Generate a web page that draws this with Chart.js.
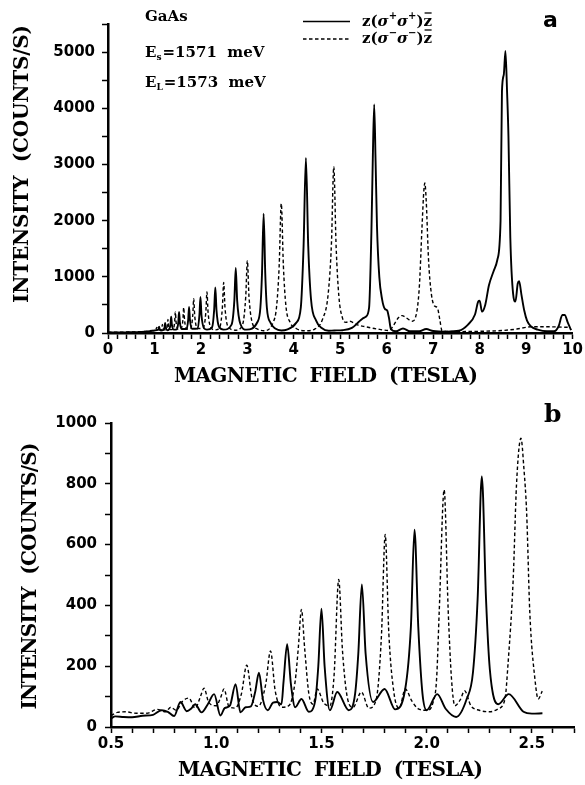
<!DOCTYPE html>
<html>
<head>
<meta charset="utf-8">
<script src="https://cdn.jsdelivr.net/npm/chart.js@4"></script>
<style>
  html, body { margin: 0; padding: 0; background: #fff; }
  #wrap { position: relative; width: 585px; height: 785px; }
  #wrap canvas { position: absolute; left: 0; top: 0; }
</style>
</head>
<body>
<div id="wrap">
  <canvas id="panelA" width="585" height="785"></canvas>
  <canvas id="panelB" width="585" height="785"></canvas>
</div>
<script>
// ---- Panel a: full field sweep, [field (T), intensity (counts/s)] ----
const plusA = [
  [0,8],[0.2,10],[0.4,12],[0.6,15],[0.8,22],[0.9,30],[1.0,45],
  [1.07,55],[1.088,70],[1.10,110],[1.112,70],[1.14,45],
  [1.19,55],[1.216,95],[1.23,180],[1.244,95],[1.28,50],
  [1.31,60],[1.345,150],[1.36,290],[1.375,150],[1.42,60],
  [1.48,65],[1.513,190],[1.53,375],[1.547,190],[1.59,70],
  [1.69,70],[1.726,235],[1.745,465],[1.764,235],[1.81,75],
  [1.93,80],[1.968,320],[1.99,640],[2.012,320],[2.07,80],
  [2.13,60],
  [2.24,100],[2.285,410],[2.31,810],[2.335,410],[2.39,110],
  [2.49,60],
  [2.66,150],[2.72,580],[2.75,1160],[2.78,580],[2.85,160],
  [2.98,60],
  [3.22,200],[3.28,450],[3.315,1060],[3.35,2125],[3.385,1060],[3.42,450],[3.50,180],[3.60,80],
  [3.73,45],[3.85,60],
  [4.05,180],[4.15,450],[4.21,1550],[4.26,3115],[4.31,1550],[4.37,600],[4.48,220],[4.60,90],
  [4.75,40],[4.87,45],[5.05,50],[5.25,90],[5.40,200],[5.47,250],[5.55,290],
  [5.62,450],[5.67,1800],[5.70,3100],[5.73,4070],[5.76,3050],[5.79,1900],[5.84,1000],
  [5.90,600],[5.96,430],[6.01,400],[6.05,260],[6.09,70],
  [6.20,30],[6.35,80],[6.50,30],[6.70,30],[6.85,70],[7.00,35],[7.30,25],[7.55,40],
  [7.75,150],[7.90,330],[7.97,560],[8.00,575],[8.05,380],[8.12,500],[8.20,850],
  [8.30,1100],[8.38,1300],[8.45,2000],[8.48,4300],[8.52,4600],[8.555,5020],[8.59,4300],
  [8.62,3500],[8.66,1700],[8.72,700],[8.77,560],[8.82,880],[8.85,920],[8.90,680],
  [8.96,400],[9.02,220],[9.10,120],[9.25,60],[9.45,30],[9.60,30],[9.70,120],
  [9.78,320],[9.83,320],[9.90,180],[9.97,50]
];
const minusA = [
  [0,15],[0.3,16],[0.6,20],[0.8,28],[0.95,45],
  [1.03,60],[1.05,100],[1.07,55],
  [1.14,55],[1.157,80],[1.17,150],[1.183,80],[1.21,55],
  [1.25,65],[1.276,125],[1.29,240],[1.304,125],[1.34,60],
  [1.40,65],[1.434,190],[1.45,375],[1.466,190],[1.51,65],
  [1.57,70],[1.612,230],[1.63,455],[1.648,230],[1.70,70],
  [1.78,80],[1.824,310],[1.845,610],[1.866,310],[1.93,80],
  [2.05,90],[2.106,370],[2.13,730],[2.154,370],[2.22,90],
  [2.31,55],
  [2.41,110],[2.462,455],[2.49,900],[2.518,455],[2.58,120],
  [2.75,50],
  [2.90,160],[2.965,650],[3.00,1285],[3.035,650],[3.11,170],[3.22,70],
  [3.35,40],
  [3.55,180],[3.63,480],[3.685,1200],[3.73,2305],[3.775,1200],[3.83,480],[3.92,190],[4.05,80],
  [4.26,40],[4.45,70],
  [4.62,250],[4.74,700],[4.81,1600],[4.86,2960],[4.91,1550],[4.97,650],[5.05,260],
  [5.12,190],[5.20,210],[5.35,150],[5.55,110],[5.80,70],[6.05,45],
  [6.15,140],[6.25,270],[6.33,310],[6.42,270],[6.55,210],[6.62,280],[6.70,800],
  [6.76,1900],[6.80,2550],[6.82,2670],[6.85,2350],[6.90,1300],[6.96,700],[7.03,480],
  [7.09,450],[7.14,250],[7.19,40],[7.50,25],[8.00,30],[8.50,45],[8.80,70],
  [9.10,110],[9.50,110],[9.95,100]
];

// ---- Panel b: low-field detail ----
const plusB = [
  [0.50,28],[0.52,35],[0.56,33],[0.60,32],[0.65,37],[0.70,40],[0.74,55],[0.77,50],
  [0.80,36],[0.83,82],[0.86,52],[0.88,60],[0.90,75],[0.93,48],[0.96,75],[0.99,108],
  [1.02,38],[1.04,62],[1.065,70],[1.092,141],[1.115,48],[1.14,65],[1.165,68],
  [1.185,115],[1.203,179],[1.222,90],[1.245,55],[1.27,80],[1.29,82],[1.31,75],
  [1.32,150],[1.337,272],[1.355,140],[1.375,65],[1.405,92],[1.44,50],[1.47,85],
  [1.485,200],[1.50,389],[1.515,200],[1.54,55],[1.575,115],[1.63,55],[1.66,110],
  [1.675,240],[1.692,469],[1.71,240],[1.745,82],[1.80,125],[1.85,58],[1.898,125],
  [1.925,330],[1.942,649],[1.96,330],[1.98,110],[2.00,55],[2.05,108],[2.09,60],
  [2.14,33],[2.19,92],[2.22,180],[2.242,420],[2.262,824],[2.282,420],[2.30,190],
  [2.34,75],[2.39,108],[2.46,50],[2.50,44],[2.55,45]
];
const minusB = [
  [0.50,38],[0.53,48],[0.57,50],[0.62,45],[0.67,45],[0.72,58],[0.76,50],[0.784,65],
  [0.81,55],[0.84,85],[0.87,95],[0.90,62],[0.925,100],[0.942,128],[0.965,80],
  [1.00,70],[1.02,95],[1.037,125],[1.06,68],[1.09,62],[1.12,110],[1.145,203],
  [1.17,95],[1.20,68],[1.235,140],[1.258,250],[1.28,120],[1.31,65],[1.345,70],
  [1.375,150],[1.39,260],[1.405,387],[1.42,260],[1.44,110],[1.46,75],[1.48,125],
  [1.51,80],[1.54,70],[1.56,170],[1.582,485],[1.60,250],[1.625,90],[1.65,65],
  [1.69,115],[1.725,62],[1.76,90],[1.785,300],[1.803,633],[1.82,310],[1.845,110],
  [1.87,62],[1.898,125],[1.93,85],[1.96,60],[2.00,55],[2.03,80],[2.047,157],
  [2.06,387],[2.083,780],[2.102,387],[2.118,157],[2.134,70],[2.16,90],[2.18,119],
  [2.21,70],[2.25,55],[2.30,50],[2.34,60],[2.372,92],[2.387,212],[2.411,485],
  [2.427,800],[2.448,950],[2.462,850],[2.475,705],[2.49,377],[2.514,160],[2.53,92],
  [2.549,118]
];

// ---- Axis ranges and tick spacing ----
const fieldRangeA = [0, 10],   fieldStepA = 0.2;
const countRangeA = [0, 5500], countStepA = 500;
const fieldRangeB = [0.5, 2.7], fieldStepB = 0.1;
const countRangeB = [0, 1000], countStepB = 100;

const yTitle = 'INTENSITY  (COUNTS/S)';
const xTitle = 'MAGNETIC  FIELD  (TESLA)';

const SERIF = '"DejaVu Serif", serif';
const SANS = '"DejaVu Sans", sans-serif';

// draw a string left-aligned at (x, y), spread evenly over the given width
function spreadText(ctx, text, x, y, width) {
  ctx.save();
  ctx.letterSpacing = '0px';
  const w = ctx.measureText(text).width;
  const n = Array.from(text).length;
  ctx.letterSpacing = ((width - w) / (n - 1)).toFixed(2) + 'px';
  ctx.textAlign = 'left';
  ctx.fillText(text, x, y);
  ctx.restore();
}

// draw a run of text pieces with their own fonts and vertical offsets
function richText(ctx, x, y, parts) {
  let cx = x;
  const placed = [];
  for (const p of parts) {
    ctx.font = p.font;
    ctx.fillText(p.t, cx, y + (p.dy || 0));
    const w = ctx.measureText(p.t).width;
    placed.push({ x: cx, w });
    cx += w + (p.gap || 0);
  }
  return placed;
}

function lineSeries(points, dashed) {
  return {
    data: points,
    borderColor: '#000',
    borderWidth: dashed ? 1.4 : 1.9,
    borderDash: dashed ? [3.5, 2.5] : [],
    pointRadius: 0,
    fill: false,
    cubicInterpolationMode: 'monotone'
  };
}

function axis(range, step, labelFn, opts) {
  return {
    type: 'linear',
    min: range[0],
    max: range[1],
    grid: { drawOnChartArea: false, drawTicks: true, tickLength: 6, tickWidth: 1.5, tickColor: '#000' },
    border: { display: true, color: '#000', width: 2.5 },
    ticks: {
      stepSize: step,
      autoSkip: false,
      maxRotation: 0,
      color: '#000',
      padding: opts.padding,
      font: { family: SANS, weight: 'bold', size: 15 },
      callback: labelFn
    },
    afterFit: opts.fit
  };
}

const isWhole = (v, m) => Math.abs(v / m - Math.round(v / m)) < 1e-6;

// text overlay for panel a
const textA = {
  id: 'textA',
  afterDraw(chart) {
    const ctx = chart.ctx;
    ctx.save();
    ctx.fillStyle = '#000';
    ctx.strokeStyle = '#000';

    // axis titles
    ctx.font = 'bold 20px ' + SERIF;
    ctx.textBaseline = 'middle';
    ctx.save();
    ctx.translate(23, 164);
    ctx.rotate(-Math.PI / 2);
    spreadText(ctx, yTitle, -139, 0, 278);
    ctx.restore();
    spreadText(ctx, xTitle, 174, 377, 304);

    // sample annotations
    ctx.textBaseline = 'alphabetic';
    ctx.textAlign = 'left';
    ctx.font = 'bold 15px ' + SERIF;
    ctx.fillText('GaAs', 145, 21);
    richText(ctx, 145, 57, [
      { t: 'E', font: 'bold 15px ' + SERIF },
      { t: 's', font: 'bold 9px ' + SERIF, dy: 3, gap: 1 },
      { t: '=1571  meV', font: 'bold 15px ' + SERIF }
    ]);
    richText(ctx, 145, 87, [
      { t: 'E', font: 'bold 15px ' + SERIF },
      { t: 'L', font: 'bold 9px ' + SERIF, dy: 3, gap: 1 },
      { t: '=1573  meV', font: 'bold 15px ' + SERIF }
    ]);

    // legend
    ctx.lineWidth = 1.5;
    ctx.setLineDash([]);
    ctx.beginPath(); ctx.moveTo(303, 21.5); ctx.lineTo(350, 21.5); ctx.stroke();
    ctx.setLineDash([3.5, 2.5]);
    ctx.beginPath(); ctx.moveTo(303, 39); ctx.lineTo(350, 39); ctx.stroke();
    ctx.setLineDash([]);

    const legendRow = (y, sign) => {
      const f = 'bold 15px ' + SERIF;
      const fs = 'bold italic 15px ' + SERIF;
      const fsup = 'bold 10px ' + SANS;
      const placed = richText(ctx, 362, y, [
        { t: 'z(', font: f },
        { t: 'σ', font: fs },
        { t: sign, font: fsup, dy: -7, gap: 0 },
        { t: 'σ', font: fs },
        { t: sign, font: fsup, dy: -7 },
        { t: ')', font: f },
        { t: 'z', font: f }
      ]);
      const last = placed[placed.length - 1];
      ctx.lineWidth = 1.3;
      ctx.beginPath();
      ctx.moveTo(last.x + 1, y - 13);
      ctx.lineTo(last.x + last.w - 0.5, y - 13);
      ctx.stroke();
    };
    legendRow(26, '+');
    legendRow(43, '\u2212');

    // panel letter
    ctx.font = 'bold 22px ' + SANS;
    ctx.fillText('a', 543, 27);
    ctx.restore();
  }
};

// text overlay for panel b
const textB = {
  id: 'textB',
  afterDraw(chart) {
    const ctx = chart.ctx;
    ctx.save();
    ctx.fillStyle = '#000';
    ctx.font = 'bold 20px ' + SERIF;
    ctx.textBaseline = 'middle';
    ctx.save();
    ctx.translate(31, 576);
    ctx.rotate(-Math.PI / 2);
    spreadText(ctx, yTitle, -133.5, 0, 267);
    ctx.restore();
    spreadText(ctx, xTitle, 178, 771, 305);

    ctx.textBaseline = 'alphabetic';
    ctx.textAlign = 'left';
    ctx.font = 'bold 25px ' + SERIF;
    ctx.fillText('b', 544, 422);
    ctx.restore();
  }
};

function makeChart(id, series, xCfg, yCfg, padding, overlay) {
  return new Chart(document.getElementById(id), {
    type: 'line',
    data: { datasets: series },
    options: {
      responsive: false,
      animation: false,
      devicePixelRatio: 1,
      layout: { padding },
      plugins: { legend: { display: false }, tooltip: { enabled: false } },
      scales: { x: xCfg, y: yCfg }
    },
    plugins: [overlay]
  });
}

makeChart('panelA',
  [lineSeries(plusA, false), lineSeries(minusA, true)],
  axis(fieldRangeA, fieldStepA, v => isWhole(v, 1) ? String(Math.round(v)) : '',
       { padding: 2, fit: s => { s.height = 30; } }),
  axis(countRangeA, countStepA, v => isWhole(v, 1000) ? String(Math.round(v)) : '',
       { padding: 7, fit: s => { s.width = 108; } }),
  { left: 0, top: 24, right: 12, bottom: 422 },
  textA);

makeChart('panelB',
  [lineSeries(plusB, false), lineSeries(minusB, true)],
  axis(fieldRangeB, fieldStepB, v => isWhole(v, 0.5) ? v.toFixed(1) : '',
       { padding: 2, fit: s => { s.height = 30; } }),
  axis(countRangeB, countStepB, v => isWhole(v, 200) ? String(Math.round(v)) : '',
       { padding: 8, fit: s => { s.width = 111; } }),
  { left: 0, top: 423, right: 11, bottom: 28 },
  textB);
</script>
</body>
</html>
